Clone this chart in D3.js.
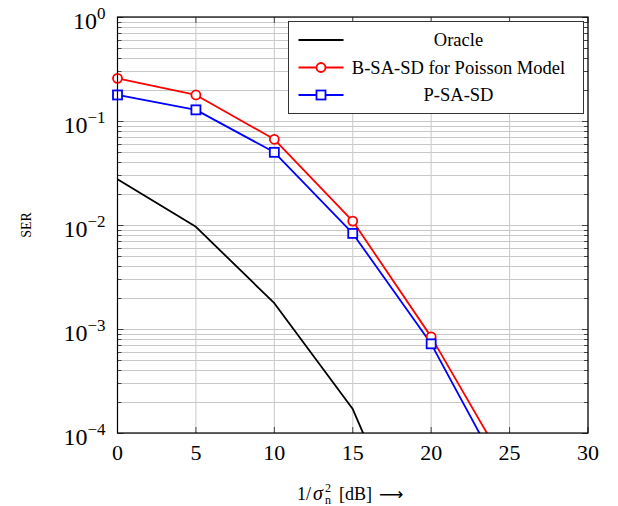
<!DOCTYPE html>
<html>
<head>
<meta charset="utf-8">
<script src="https://cdn.jsdelivr.net/npm/d3@7"></script>
<style>
  html, body { margin: 0; padding: 0; background: #fff; }
  svg { display: block; }
</style>
</head>
<body>
<script>
/* data */
var snrDb = [0, 5, 10, 15, 20, 25],
    oracleSer = [0.0275, 0.0096, 0.00177, 0.00017, 0.000003, null],
    bsasdSer = [0.257, 0.178, 0.0667, 0.0109, 0.00084, 0.000042],
    psasdSer = [0.178, 0.128, 0.050, 0.0083, 0.00072, 0.000029],
    xTicks = [0, 5, 10, 15, 20, 25, 30],
    yDecades = [0, -1, -2, -3, -4],
    seriesNames = ["Oracle", "B-SA-SD for Poisson Model", "P-SA-SD"];

/* layout */
var width = 618,
    height = 506,
    margin = { top: 17, right: 30, bottom: 73, left: 117.5 },
    innerWidth = width - margin.left - margin.right,
    innerHeight = height - margin.top - margin.bottom,
    serif = "'Liberation Serif', 'DejaVu Serif', serif";

var svg = d3.select("body")
    .append("svg")
    .attr("width", width)
    .attr("height", height)
    .attr("font-family", serif);

var main = svg.append("g")
    .attr("transform", "translate(" + margin.left + "," + margin.top + ")");

/* scales */
var x = d3.scaleLinear().domain([0, 30]).range([0, innerWidth]),
    y = d3.scaleLog().domain([1e-4, 1]).range([innerHeight, 0]);

svg.append("defs").append("clipPath")
    .attr("id", "plotclip")
    .append("rect")
    .attr("width", innerWidth)
    .attr("height", innerHeight);

/* grids */
var minorVals = [];
yDecades.slice(1).forEach(function(e) {
    for (var k = 2; k <= 9; k++) minorVals.push(k * Math.pow(10, e));
});
var grids = main.append("g").attr("class", "grids")
    .attr("stroke", "#c8c8c8")
    .attr("stroke-width", 1);
grids.selectAll("line.ym")
    .data(minorVals.concat(yDecades.map(function(e) { return Math.pow(10, e); })))
    .enter().append("line")
    .attr("x1", 0).attr("x2", innerWidth)
    .attr("y1", function(d) { return Math.round(y(d)) + 0.5; })
    .attr("y2", function(d) { return Math.round(y(d)) + 0.5; });
grids.selectAll("line.xg")
    .data(xTicks)
    .enter().append("line")
    .attr("x1", function(d) { return x(d); })
    .attr("x2", function(d) { return x(d); })
    .attr("y1", 0).attr("y2", innerHeight);

/* ticks inside frame */
var ticks = main.append("g").attr("stroke", "#444").attr("stroke-width", 1);
minorVals.forEach(function(v) {
    var yy = Math.round(y(v)) + 0.5;
    ticks.append("line").attr("x1", 0).attr("x2", 4).attr("y1", yy).attr("y2", yy);
    ticks.append("line").attr("x1", innerWidth - 4).attr("x2", innerWidth).attr("y1", yy).attr("y2", yy);
});
yDecades.forEach(function(e) {
    var yy = Math.round(y(Math.pow(10, e))) + 0.5;
    ticks.append("line").attr("x1", 0).attr("x2", 6).attr("y1", yy).attr("y2", yy);
    ticks.append("line").attr("x1", innerWidth - 6).attr("x2", innerWidth).attr("y1", yy).attr("y2", yy);
});
xTicks.forEach(function(t) {
    ticks.append("line").attr("x1", x(t)).attr("x2", x(t)).attr("y1", innerHeight).attr("y2", innerHeight - 6);
    ticks.append("line").attr("x1", x(t)).attr("x2", x(t)).attr("y1", 0).attr("y2", 6);
});

/* series */
var series = [
    { name: seriesNames[0], values: oracleSer, color: "#000", marker: null },
    { name: seriesNames[1], values: bsasdSer, color: "#ff0000", marker: "circle" },
    { name: seriesNames[2], values: psasdSer, color: "#0000ff", marker: "square" }
];

var line = d3.line()
    .defined(function(d) { return d[1] != null; })
    .x(function(d) { return x(d[0]); })
    .y(function(d) { return y(d[1]); });

var plot = main.append("g").attr("clip-path", "url(#plotclip)");

series.forEach(function(s) {
    var pts = snrDb.map(function(v, i) { return [v, s.values[i]]; });
    plot.append("path")
        .datum(pts)
        .attr("fill", "none")
        .attr("stroke", s.color)
        .attr("stroke-width", 1.8)
        .attr("stroke-linejoin", "round")
        .attr("d", line);
});

function drawMarker(g, s, cx, cy) {
    if (s.marker === "circle") {
        g.append("circle").attr("cx", cx).attr("cy", cy).attr("r", 4.5)
            .attr("fill", "#fff").attr("stroke", s.color).attr("stroke-width", 1.8);
    } else if (s.marker === "square") {
        g.append("rect").attr("x", cx - 4.5).attr("y", cy - 4.5)
            .attr("width", 9).attr("height", 9)
            .attr("fill", "#fff").attr("stroke", s.color).attr("stroke-width", 1.8);
    }
}

var marks = main.append("g");
series.forEach(function(s) {
    snrDb.forEach(function(v, i) {
        var val = s.values[i];
        if (val == null || val < 1e-4 || val > 1) return;
        drawMarker(marks, s, x(v), y(val));
    });
});

/* frame */
main.append("rect")
    .attr("width", innerWidth)
    .attr("height", innerHeight)
    .attr("fill", "none")
    .attr("stroke", "#000")
    .attr("stroke-width", 1.2);

/* tick labels */
main.selectAll("text.xt")
    .data(xTicks)
    .enter().append("text")
    .attr("x", function(d) { return x(d); })
    .attr("y", innerHeight + 27)
    .attr("text-anchor", "middle")
    .attr("font-size", 22)
    .text(function(d) { return d; });

yDecades.forEach(function(e) {
    var t = main.append("text")
        .attr("x", -12)
        .attr("y", y(Math.pow(10, e)) + 12)
        .attr("text-anchor", "end")
        .attr("font-size", 24);
    t.append("tspan").text("10");
    t.append("tspan").attr("dy", -10).attr("font-size", 17)
        .text(e === 0 ? "0" : "\u2212" + (-e));
});

/* axis labels */
svg.append("text")
    .attr("transform", "translate(31," + (margin.top + innerHeight / 2) + ") rotate(-90)")
    .attr("text-anchor", "middle")
    .attr("font-size", 14)
    .text("SER");

var xl = svg.append("text")
    .attr("x", 297)
    .attr("y", 500)
    .attr("font-size", 18);
xl.append("tspan").text("1/");
xl.append("tspan").attr("x", 313).attr("font-style", "italic").attr("font-size", 20).text("\u03c3");
xl.append("tspan").attr("x", 325).attr("font-size", 12).attr("dy", 4).text("n");
xl.append("tspan").attr("x", 325).attr("font-size", 12).attr("dy", -12).text("2");
xl.append("tspan").attr("x", 339).attr("dy", 8).text("[dB]");
xl.append("tspan").attr("x", 379).attr("font-family", "'DejaVu Sans', sans-serif")
    .attr("font-size", 17).text("\u27f6");

/* legend */
var lgd = svg.append("g").attr("transform", "translate(288.5,21.5)");
lgd.append("rect")
    .attr("width", 295)
    .attr("height", 92)
    .attr("fill", "#fff")
    .attr("stroke", "#333")
    .attr("stroke-width", 1);
series.forEach(function(s, i) {
    var ry = 18.5 + i * 27.5;
    lgd.append("line")
        .attr("x1", 10).attr("x2", 55)
        .attr("y1", ry).attr("y2", ry)
        .attr("stroke", s.color).attr("stroke-width", 1.8);
    drawMarker(lgd, s, 32.5, ry);
    lgd.append("text")
        .attr("x", 170)
        .attr("y", ry + 6)
        .attr("text-anchor", "middle")
        .attr("font-size", 18.5)
        .text(s.name);
});
</script>
</body>
</html>
